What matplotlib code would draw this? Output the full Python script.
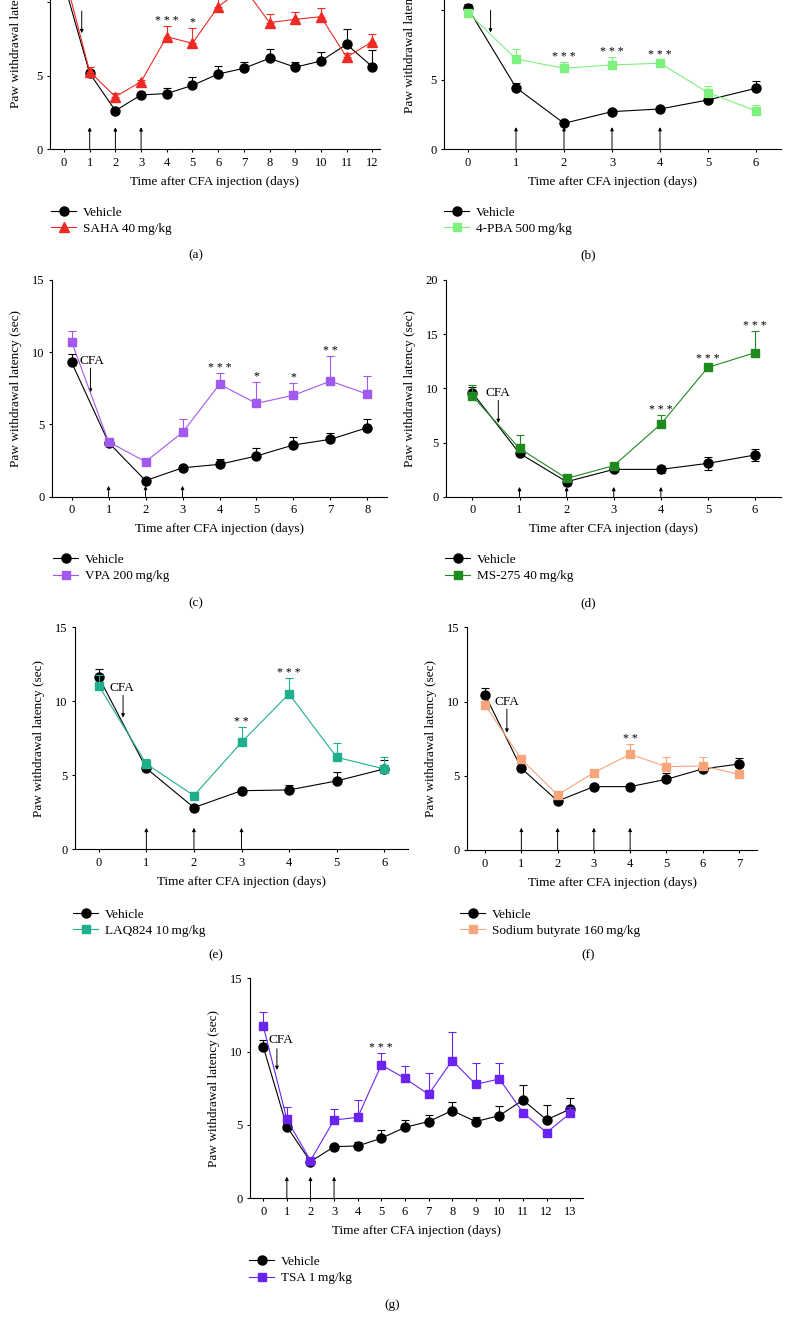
import numpy as np
import matplotlib.pyplot as plt
from matplotlib.lines import Line2D

plt.rcParams['font.family'] = ['Liberation Serif', 'DejaVu Serif']
plt.rcParams['font.size'] = 9

W, H = 788, 1331

# paw withdrawal latency (sec), vehicle vs drug
a_veh = [11.3, 5.17, 2.63, 3.70, 3.79, 4.35, 5.12, 5.51, 6.19, 5.58, 6.01, 7.14, 5.62]
a_veh_err = [0.4, 0.25, 0.1, 0.1, 0.36, 0.59, 0.55, 0.45, 0.64, 0.34, 0.63, 1.02, 1.14]
a_drug = [12.0, 5.28, 3.58, 4.60, 7.66, 7.21, 9.70, 11.0, 8.62, 8.84, 9.02, 6.26, 7.32]
a_drug_err = [0.5, 0.32, 0.27, 0.1, 0.73, 1.07, 0.6, 0.6, 0.56, 0.53, 0.57, 0.3, 0.5]
a_sig = {4: '***', 5: '*'}

b_veh = [10.14, 4.44, 1.87, 2.71, 2.90, 3.55, 4.39]
b_veh_err = [0.3, 0.36, 0.1, 0.1, 0.1, 0.1, 0.55]
b_drug = [9.83, 6.50, 5.83, 6.07, 6.19, 4.08, 2.76]
b_drug_err = [0.2, 0.69, 0.48, 0.6, 0.2, 0.48, 0.43]
b_sig = {2: '***', 3: '***', 4: '***'}

c_veh = [9.3, 3.75, 1.11, 2.0, 2.24, 2.82, 3.58, 3.97, 4.78]
c_veh_err = [0.55, 0.1, 0.1, 0.1, 0.34, 0.53, 0.52, 0.46, 0.62]
c_drug = [10.73, 3.8, 2.42, 4.45, 7.78, 6.46, 7.02, 8.0, 7.1]
c_drug_err = [0.77, 0.1, 0.1, 0.9, 0.8, 1.5, 0.87, 1.74, 1.25]
c_sig = {4: '***', 5: '*', 6: '*', 7: '**'}

d_veh = [9.6, 4.0, 1.38, 2.52, 2.52, 3.08, 3.85]
d_veh_err = [0.5, 0.1, 0.1, 0.1, 0.31, 0.61, 0.55]
d_veh_lo = [0, 0, 0, 0, 0.31, 0.62, 0.53]
d_drug = [9.29, 4.46, 1.69, 2.86, 6.7, 11.94, 13.29]
d_drug_err = [1.0, 1.23, 0.1, 0.1, 0.84, 0.3, 2.0]
d_sig = {4: '***', 5: '***', 6: '***'}

e_veh = [11.62, 5.47, 2.82, 3.96, 4.01, 4.62, 5.43]
e_veh_err = [0.54, 0.1, 0.1, 0.1, 0.34, 0.63, 0.6]
e_drug = [11.06, 5.77, 3.63, 7.23, 10.5, 6.22, 5.43]
e_drug_err = [0.7, 0.31, 0.1, 1.01, 1.05, 0.99, 0.83]
e_sig = {3: '**', 4: '***'}

f_veh = [10.44, 5.5, 3.3, 4.27, 4.27, 4.76, 5.46, 5.79]
f_veh_err = [0.45, 0.1, 0.1, 0.1, 0.1, 0.44, 0.3, 0.43]
f_drug = [9.77, 6.11, 3.71, 5.21, 6.45, 5.61, 5.66, 5.1]
f_drug_err = [0.1, 0.1, 0.1, 0.1, 0.69, 0.63, 0.58, 0.1]
f_sig = {4: '**'}

g_veh = [10.34, 4.89, 2.5, 3.52, 3.57, 4.09, 4.84, 5.23, 5.98, 5.23, 5.64, 6.7, 5.35, 6.09]
g_veh_err = [0.46, 0.1, 0.1, 0.1, 0.29, 0.57, 0.5, 0.45, 0.61, 0.34, 0.66, 1.03, 1.0, 0.73]
g_drug = [11.75, 5.39, 2.57, 5.34, 5.52, 9.09, 8.18, 7.09, 9.39, 7.77, 8.14, 5.84, 4.48, 5.8]
g_drug_err = [0.93, 0.86, 0.1, 0.75, 1.18, 0.8, 0.87, 1.43, 1.97, 1.43, 1.11, 0.2, 0.2, 0.45]
g_sig = {5: '***'}

labels = ['SAHA 40\u2009mg/kg', '4-PBA 500\u2009mg/kg', 'VPA 200\u2009mg/kg', 'MS-275 40\u2009mg/kg',
          'LAQ824 10\u2009mg/kg', 'Sodium butyrate 160\u2009mg/kg', 'TSA 1\u2009mg/kg']
colors = ['#EE2A24', '#7DF07D', '#A259EF', '#1F8B1F', '#1FAF8F', '#F9A57B', '#6B24F0']
injections = [[1, 2, 3], [1, 2, 3, 4], [1, 2, 3], [1, 2, 3, 4], [1, 2, 3], [1, 2, 3, 4], [1, 2, 3]]

# layout in pixels: left, right, bottom(y0), top, xlim, ymax, arrow height, cfa arrow, cfa text, legend, tag
# panels (a) and (b) are cropped at the top of the page, so their CFA label is not shown
layout = [
    dict(L=50, R=380, B=149.3, T=-71.2, xl=(-0.545, 12.3), ym=15, ih=1.5, ly=0.545, lp=10.5,
         ca=(0.69, 9.4, 7.9), ct=None, lg=(51, 220.5), tg=(196, 255), tag='(a)'),
    dict(L=444, R=781, B=149.3, T=-59.2, xl=(-0.5, 6.52), ym=15, ih=1.6, ly=0.55, lp=10.5,
         ca=(0.47, 10.0, 8.4), ct=None, lg=(444, 220.5), tg=(588, 255), tag='(b)'),
    dict(L=52, R=387, B=496.7, T=280, xl=(-0.53, 8.53), ym=15, ih=0.75, ly=0.5, lp=7,
         ca=(0.51, 8.9, 7.2), ct=(0.56, 9.4), lg=(53, 568), tg=(196, 603), tag='(c)'),
    dict(L=446, R=781, B=496.7, T=280, xl=(-0.56, 6.55), ym=20, ih=0.9, ly=0.5, lp=7,
         ca=(0.55, 8.9, 6.8), ct=(0.55, 9.6), lg=(445, 568), tg=(588, 603), tag='(d)'),
    dict(L=75, R=408, B=849.3, T=627.3, xl=(-0.5, 6.5), ym=15, ih=1.45, ly=0.5, lp=7,
         ca=(0.51, 10.4, 8.9), ct=(0.49, 10.9), lg=(73, 922.5), tg=(216, 955), tag='(e)'),
    dict(L=467, R=757, B=850, T=627.3, xl=(-0.5, 7.5), ym=15, ih=1.5, ly=0.5, lp=7,
         ca=(0.6, 9.5, 7.9), ct=(0.6, 10.0), lg=(460, 922.5), tg=(588, 955), tag='(f)'),
    dict(L=250, R=583, B=1198.3, T=978.3, xl=(-0.56, 13.54), ym=15, ih=1.47, ly=0.5, lp=7,
         ca=(0.58, 10.2, 8.75), ct=(0.75, 10.8), lg=(249, 1270), tg=(392, 1305), tag='(g)'),
]

vehs = [a_veh, b_veh, c_veh, d_veh, e_veh, f_veh, g_veh]
veh_errs = [a_veh_err, b_veh_err, c_veh_err, d_veh_err, e_veh_err, f_veh_err, g_veh_err]
drugs = [a_drug, b_drug, c_drug, d_drug, e_drug, f_drug, g_drug]
drug_errs = [a_drug_err, b_drug_err, c_drug_err, d_drug_err, e_drug_err, f_drug_err, g_drug_err]
sigs = [a_sig, b_sig, c_sig, d_sig, e_sig, f_sig, g_sig]

fig = plt.figure(figsize=(W / 100, H / 100), dpi=100)

for i, p in enumerate(layout):
    ax = fig.add_axes([p['L'] / W, 1 - p['B'] / H, (p['R'] - p['L']) / W, (p['B'] - p['T']) / H])
    days = np.arange(len(vehs[i]))
    col = colors[i]
    mk, ms = ('^', 7.5) if i == 0 else ('s', 5.5)
    lo = d_veh_lo if i == 3 else np.zeros(len(days))

    ax.errorbar(days, vehs[i], yerr=[lo, veh_errs[i]], fmt='none', ecolor='black',
                elinewidth=0.8, capsize=3, capthick=0.8, zorder=2)
    ax.plot(days, vehs[i], color='black', lw=0.8, marker='o', ms=6.5, zorder=3)
    ax.errorbar(days, drugs[i], yerr=[np.zeros(len(days)), drug_errs[i]], fmt='none',
                ecolor=col, elinewidth=0.8, capsize=3, capthick=0.8, zorder=4)
    ax.plot(days, drugs[i], color=col, lw=0.8, marker=mk, ms=ms, mec=col, zorder=5)

    for d, s in sigs[i].items():
        ax.annotate(' '.join(s), xy=(d, drugs[i][d] + drug_errs[i][d]), xytext=(0, 1.5),
                    textcoords='offset points', ha='center', va='baseline', fontsize=8.5)

    for d in injections[i]:
        ax.annotate('', xy=(d, p['ih']), xytext=(d, 0),
                    arrowprops=dict(arrowstyle='-|>', lw=0.7, color='black',
                                    mutation_scale=5, shrinkA=0, shrinkB=0))
    cx, cy0, cy1 = p['ca']
    ax.annotate('', xy=(cx, cy1), xytext=(cx, cy0),
                arrowprops=dict(arrowstyle='-|>', lw=0.7, color='black',
                                mutation_scale=5, shrinkA=0, shrinkB=0))
    if p['ct'] is not None:
        ax.text(p['ct'][0], p['ct'][1], 'CFA', ha='center', va='center', fontsize=9.5)

    ax.set_xlim(*p['xl'])
    ax.set_ylim(0, p['ym'])
    ax.set_xticks(days)
    yt = np.arange(0, p['ym'] + 1, 5)
    # tick labels that sit above the cropped page edge are not visible
    ylab = [str(v) if p['B'] - v * (p['B'] - p['T']) / p['ym'] > 14 else '' for v in yt]
    ax.set_yticks(yt, ylab)
    for s in ['top', 'right']:
        ax.spines[s].set_visible(False)
    for s in ['left', 'bottom']:
        ax.spines[s].set_linewidth(0.8)
    ax.tick_params(length=2.5, width=0.8, pad=3, labelsize=9)
    ax.set_xlabel('Time after CFA injection (days)', fontsize=9.5, labelpad=5)
    ax.set_ylabel('Paw withdrawal latency (sec)', fontsize=9.5, labelpad=p['lp'])
    ax.yaxis.label.set_y(p['ly'])

    handles = [Line2D([], [], color='black', lw=0.8, marker='o', ms=6.5),
               Line2D([], [], color=col, lw=0.8, marker=mk, ms=ms, mec=col)]
    ax.legend(handles, ['Vehicle', labels[i]], loc='center left',
              bbox_to_anchor=(p['lg'][0] / W, 1 - p['lg'][1] / H), bbox_transform=fig.transFigure,
              frameon=False, fontsize=9.5, borderpad=0, borderaxespad=0,
              handlelength=1.9, handletextpad=0.55, labelspacing=0.3)
    fig.text(p['tg'][0] / W, 1 - p['tg'][1] / H, p['tag'], ha='center', va='center', fontsize=9.5)

fig.savefig('out.png', dpi=100)
